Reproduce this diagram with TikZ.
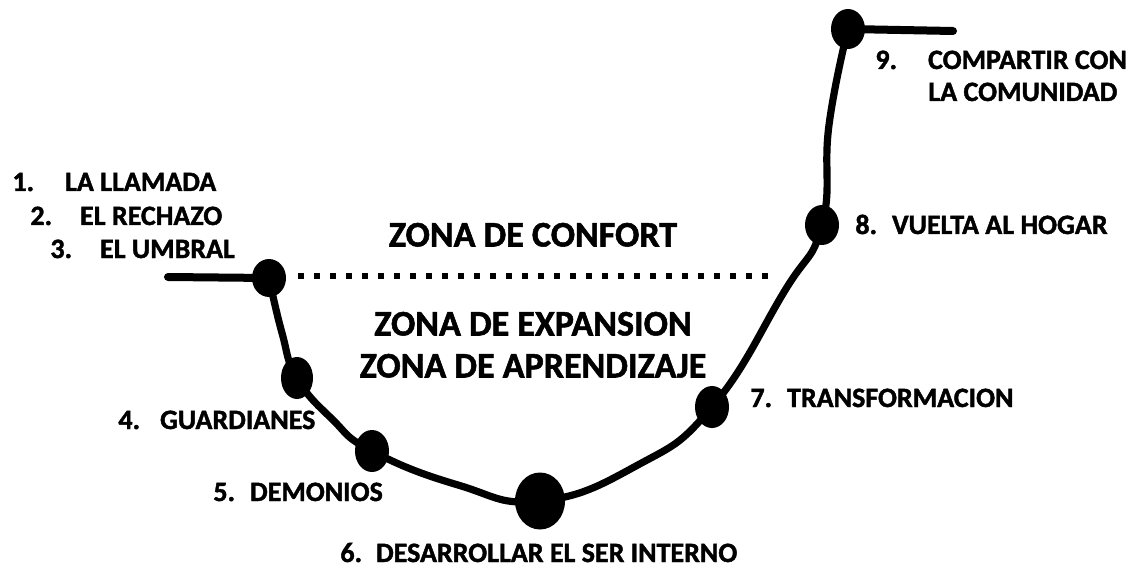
\documentclass[tikz,border=0pt]{standalone}
\usepackage{fontspec}
\setmainfont{Carlito}[BoldFeatures={FakeBold=1.5}]
\usetikzlibrary{shapes.geometric}
\begin{document}
\begin{tikzpicture}[x=0.5pt,y=-0.5pt,
  lbl/.style={anchor=base west, inner sep=0pt, font=\fontsize{14pt}{16pt}\selectfont\bfseries},
  zone/.style={anchor=base, inner sep=0pt, font=\fontsize{18pt}{20pt}\selectfont\bfseries},
  stage/.style={ellipse, fill=black, inner sep=0pt},
  road/.style={line width=3.6pt, line cap=round, line join=round},
  border/.style={line width=3.2pt, dash pattern=on 3pt off 5pt}]
\path[use as bounding box] (0,0) rectangle (1136,567);
\fill[white] (0,0) rectangle (1136,567);
% path points
\coordinate (s0) at (168,277);
\coordinate (c3) at (269,278);
\coordinate (m34) at (282,333);
\coordinate (c4) at (297,378);
\coordinate (m45) at (332,419);
\coordinate (c5) at (372,451);
\coordinate (m56) at (458,485);
\coordinate (c6) at (540,501);
\coordinate (m67) at (636,466);
\coordinate (c7) at (712,407);
\coordinate (m78) at (784,292);
\coordinate (c8) at (822,225);
\coordinate (m89) at (829,125);
\coordinate (c9) at (848,29);
\coordinate (e9) at (953,31);
\coordinate (d0) at (298,276);
\coordinate (d1) at (773,276);
% lines
\draw[road, line width=4pt] (s0) -- (c3);
\draw[road, line width=4pt] (c9) -- (e9);
\draw[road] plot[smooth, tension=0.8] coordinates {(c3) (m34) (c4) (m45) (c5) (m56) (c6) (m67) (c7) (m78) (c8) (m89) (c9)};
\draw[border] (d0) -- (d1);
% stages
\node[stage, minimum width=17pt, minimum height=19pt] (n3) at (c3) {};
\node[stage, minimum width=16pt, minimum height=21pt] (n4) at (c4) {};
\node[stage, minimum width=17pt, minimum height=21pt] (n5) at (c5) {};
\node[stage, minimum width=25pt, minimum height=28.5pt] (n6) at (c6) {};
\node[stage, minimum width=17pt, minimum height=21pt] (n7) at (c7) {};
\node[stage, minimum width=17pt, minimum height=20pt] (n8) at (c8) {};
\node[stage, minimum width=17pt, minimum height=20pt] (n9) at (c9) {};
% labels
\node[lbl] (l1) at (12,191) {1.\hspace{15.5pt}LA LLAMADA};
\node[lbl] (l2) at (30,225) {2.\hspace{14pt}EL RECHAZO};
\node[lbl] (l3) at (50,258) {3.\hspace{14pt}EL UMBRAL};
\node[lbl] (l4) at (118,429) {4.\hspace{10pt}GUARDIANES};
\node[lbl] (l5) at (213,501) {5.\hspace{7.5pt}DEMONIOS};
\node[lbl] (l6) at (340,562) {6.\hspace{7pt}DESARROLLAR EL SER INTERNO};
\node[lbl] (l7) at (750,407) {7.\hspace{7.5pt}TRANSFORMACION};
\node[lbl] (l8) at (855,234) {8.\hspace{7.5pt}VUELTA AL HOGAR};
\node[lbl] (l9) at (875,69) {9.\hspace{15.5pt}COMPARTIR CON};
\node[lbl] (l9b) at (928,101) {LA COMUNIDAD};
\node[zone] (z1) at (533,246.5) {ZONA DE CONFORT};
\node[zone] (z2) at (533,335.5) {ZONA DE EXPANSION};
\node[zone] (z3) at (533,377.5) {ZONA DE APRENDIZAJE};
\end{tikzpicture}
\end{document}
